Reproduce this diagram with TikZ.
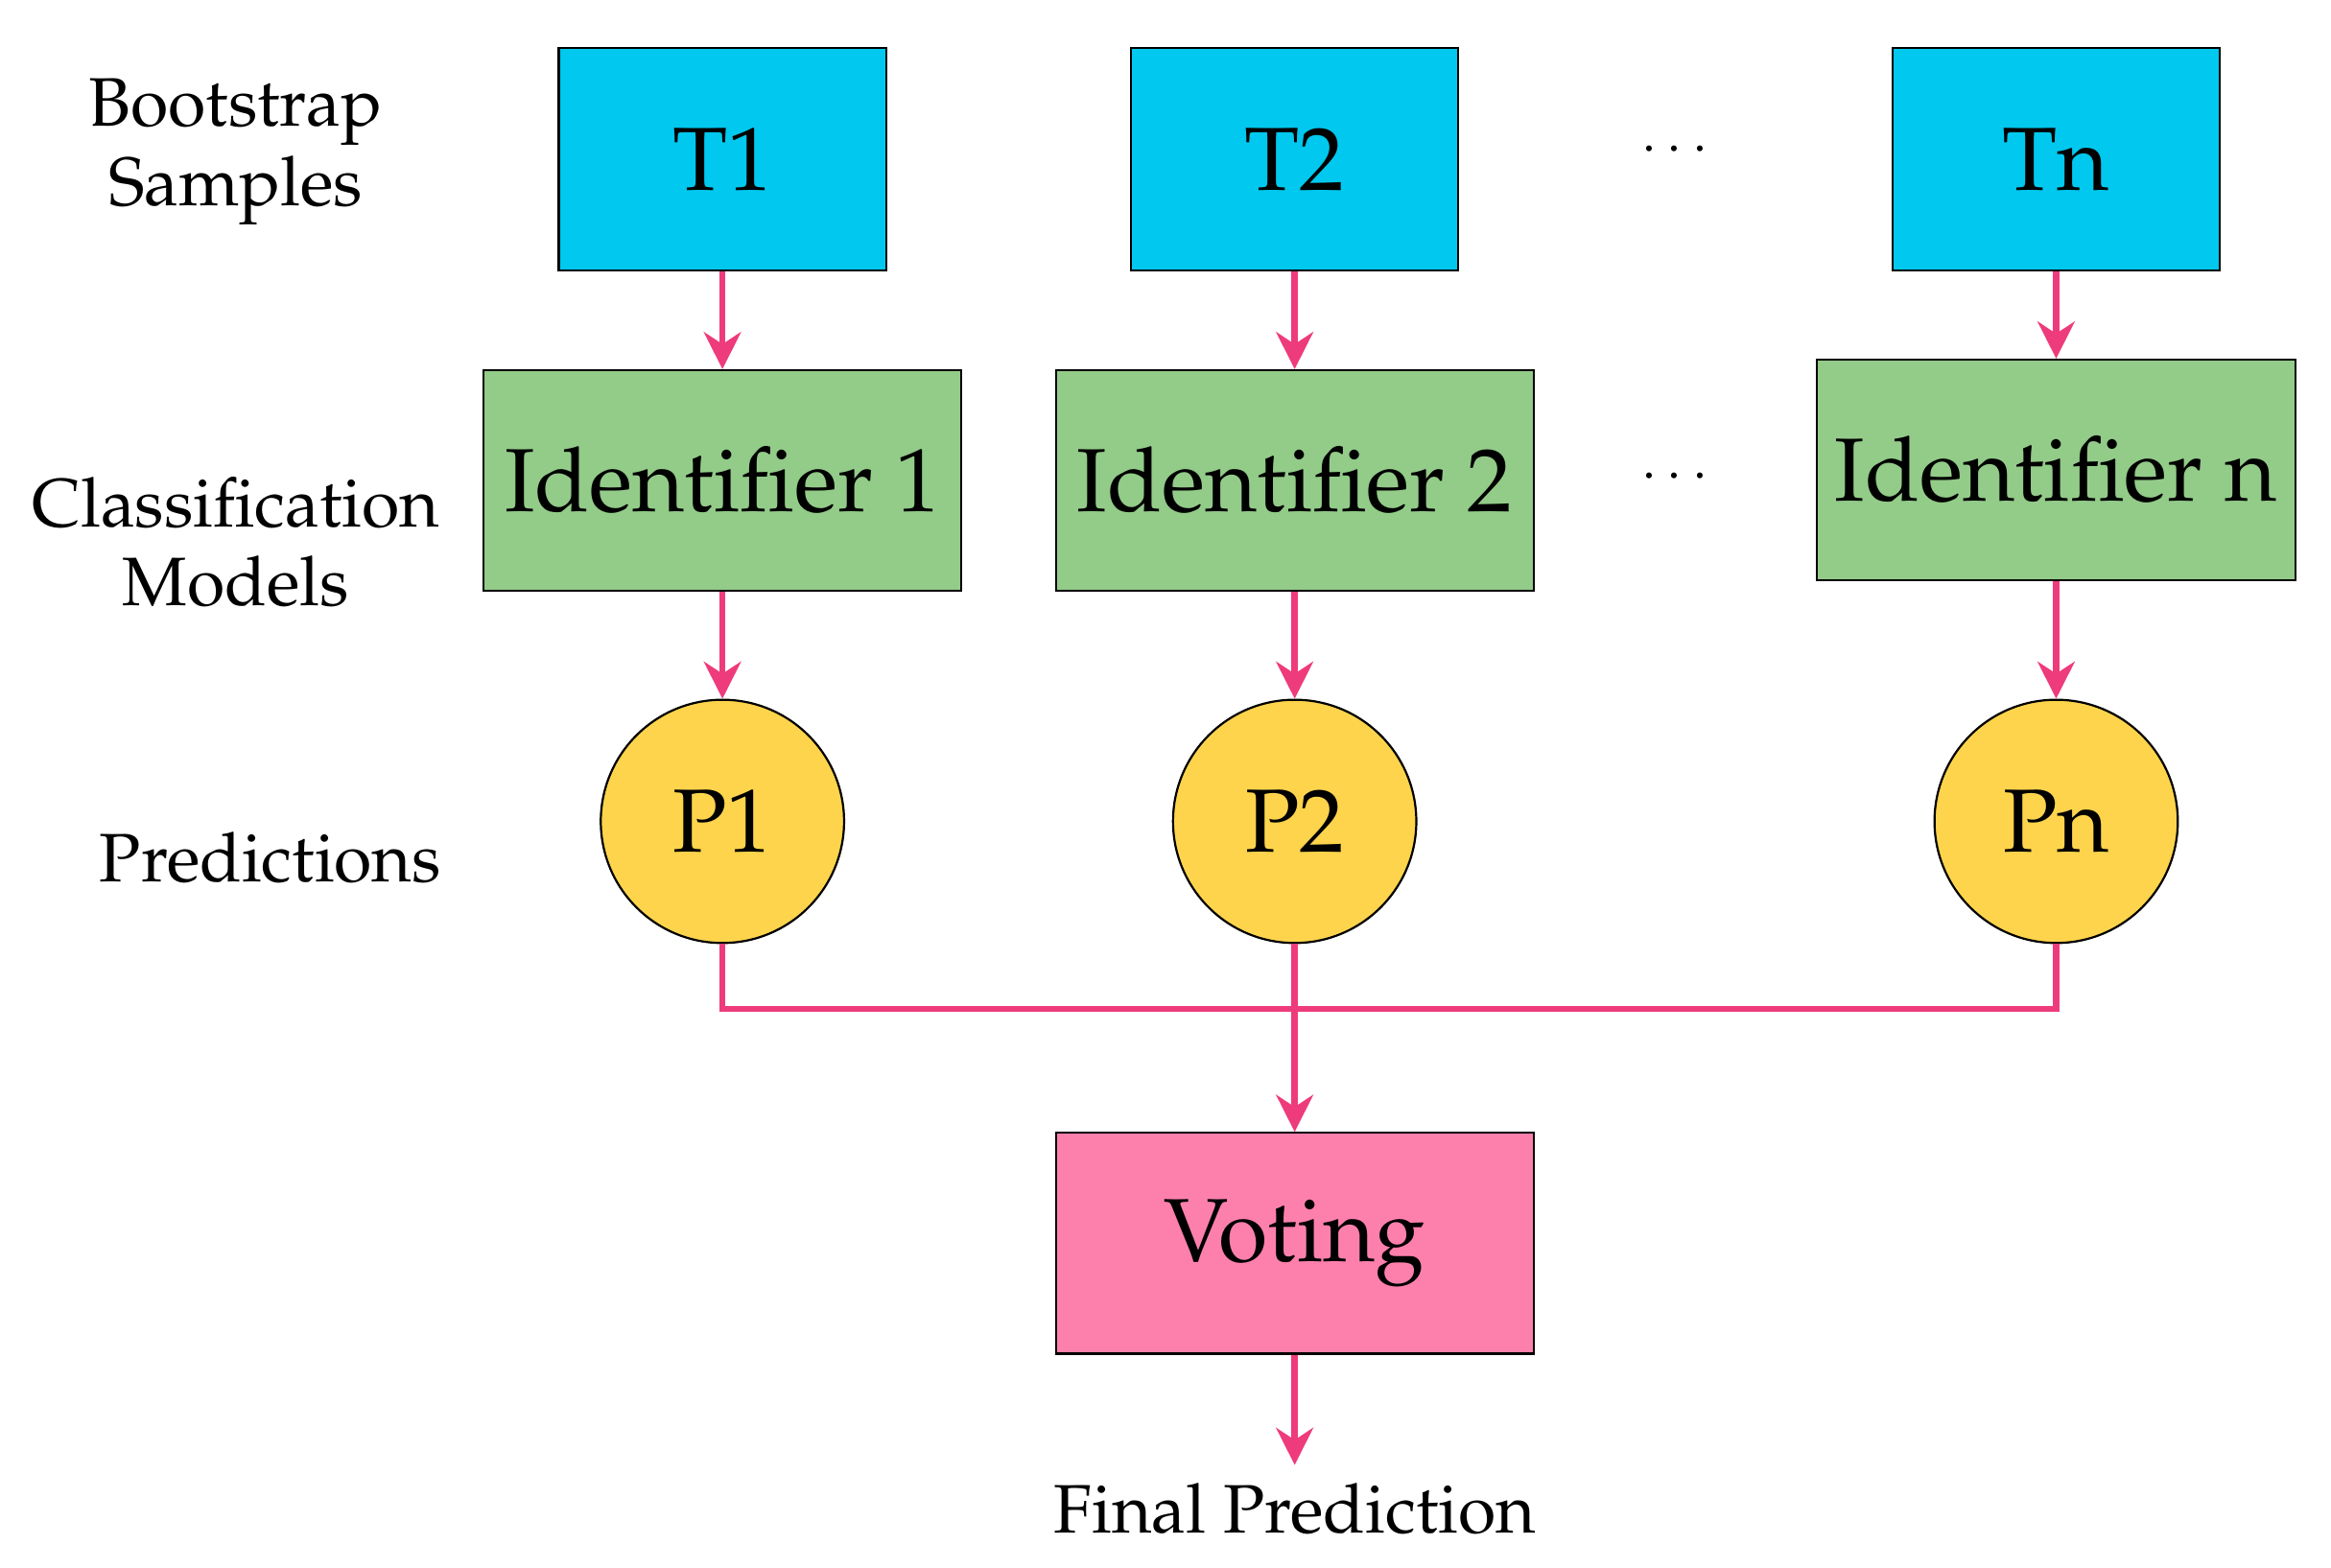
\documentclass[tikz,border=0pt]{standalone}
\usepackage[T1]{fontenc}
\usepackage{mathpazo}
\usetikzlibrary{arrows.meta}
\definecolor{sampleblue}{HTML}{00C8EE}
\definecolor{modelgreen}{HTML}{93CB89}
\definecolor{predyellow}{HTML}{FDD44C}
\definecolor{votepink}{HTML}{FD80AC}
\definecolor{arrowpink}{HTML}{EE3B7B}
\tikzset{
  sample/.style={draw, fill=sampleblue, minimum width=2.18cm, minimum height=1.48cm, font=\fontsize{17}{20}\selectfont},
  model/.style={draw, fill=modelgreen, minimum width=3.18cm, minimum height=1.47cm, font=\fontsize{17}{20}\selectfont},
  pred/.style={draw, circle, fill=predyellow, minimum size=1.62cm, inner sep=0pt, font=\fontsize{17}{20}\selectfont},
  row/.style={align=center, font=\fontsize{13}{15}\selectfont},
  flow/.style={draw=arrowpink, line width=1.2pt, -{Stealth[length=7pt,width=7pt]}}
}
\begin{document}
\begin{tikzpicture}
      \useasboundingbox (0,0) rectangle (15.52,-10.44);

      \node[row] (lblsample) at (1.57,-1.01) {Bootstrap\\Samples};
      \node[row] (lblmodel) at (1.57,-3.61) {Classification\\Models};
      \node[row] (lblpred) at (1.80,-5.71) {Predictions};

      \node[sample] (t1) at (4.81,-1.06) {T1};
      \node[sample] (t2) at (8.62,-1.06) {T2};
      \node[sample] (tn) at (13.69,-1.06) {Tn};
      \node (dotsa) at (11.15,-1.00) {$\cdots$};

      \node[model] (m1) at (4.81,-3.20) {Identifier 1};
      \node[model] (m2) at (8.62,-3.20) {Identifier 2};
      \node[model] (mn) at (13.69,-3.13) {Identifier n};
      \node (dotsb) at (11.15,-3.18) {$\cdots$};

      \node[pred] (p1) at (4.81,-5.47) {P1};
      \node[pred] (p2) at (8.62,-5.47) {P2};
      \node[pred] (pn) at (13.69,-5.47) {Pn};

      \node[model, fill=votepink] (vote) at (8.62,-8.28) {Voting};
      \node[row] (final) at (8.62,-10.05) {Final Prediction};

      \coordinate (j1) at (4.81,-6.72);
      \coordinate (jn) at (13.69,-6.72);

      \draw[flow] (t1) -- (m1);
      \draw[flow] (t2) -- (m2);
      \draw[flow] (tn) -- (mn);
      \draw[flow] (m1) -- (p1);
      \draw[flow] (m2) -- (p2);
      \draw[flow] (mn) -- (pn);
      \draw[draw=arrowpink, line width=1.2pt] (p1.south) -- (j1) -- (jn) -- (pn.south);
      \draw[flow] (p2) -- (vote);
      \draw[flow] (vote) -- (final.north);
    \end{tikzpicture}
\end{document}
